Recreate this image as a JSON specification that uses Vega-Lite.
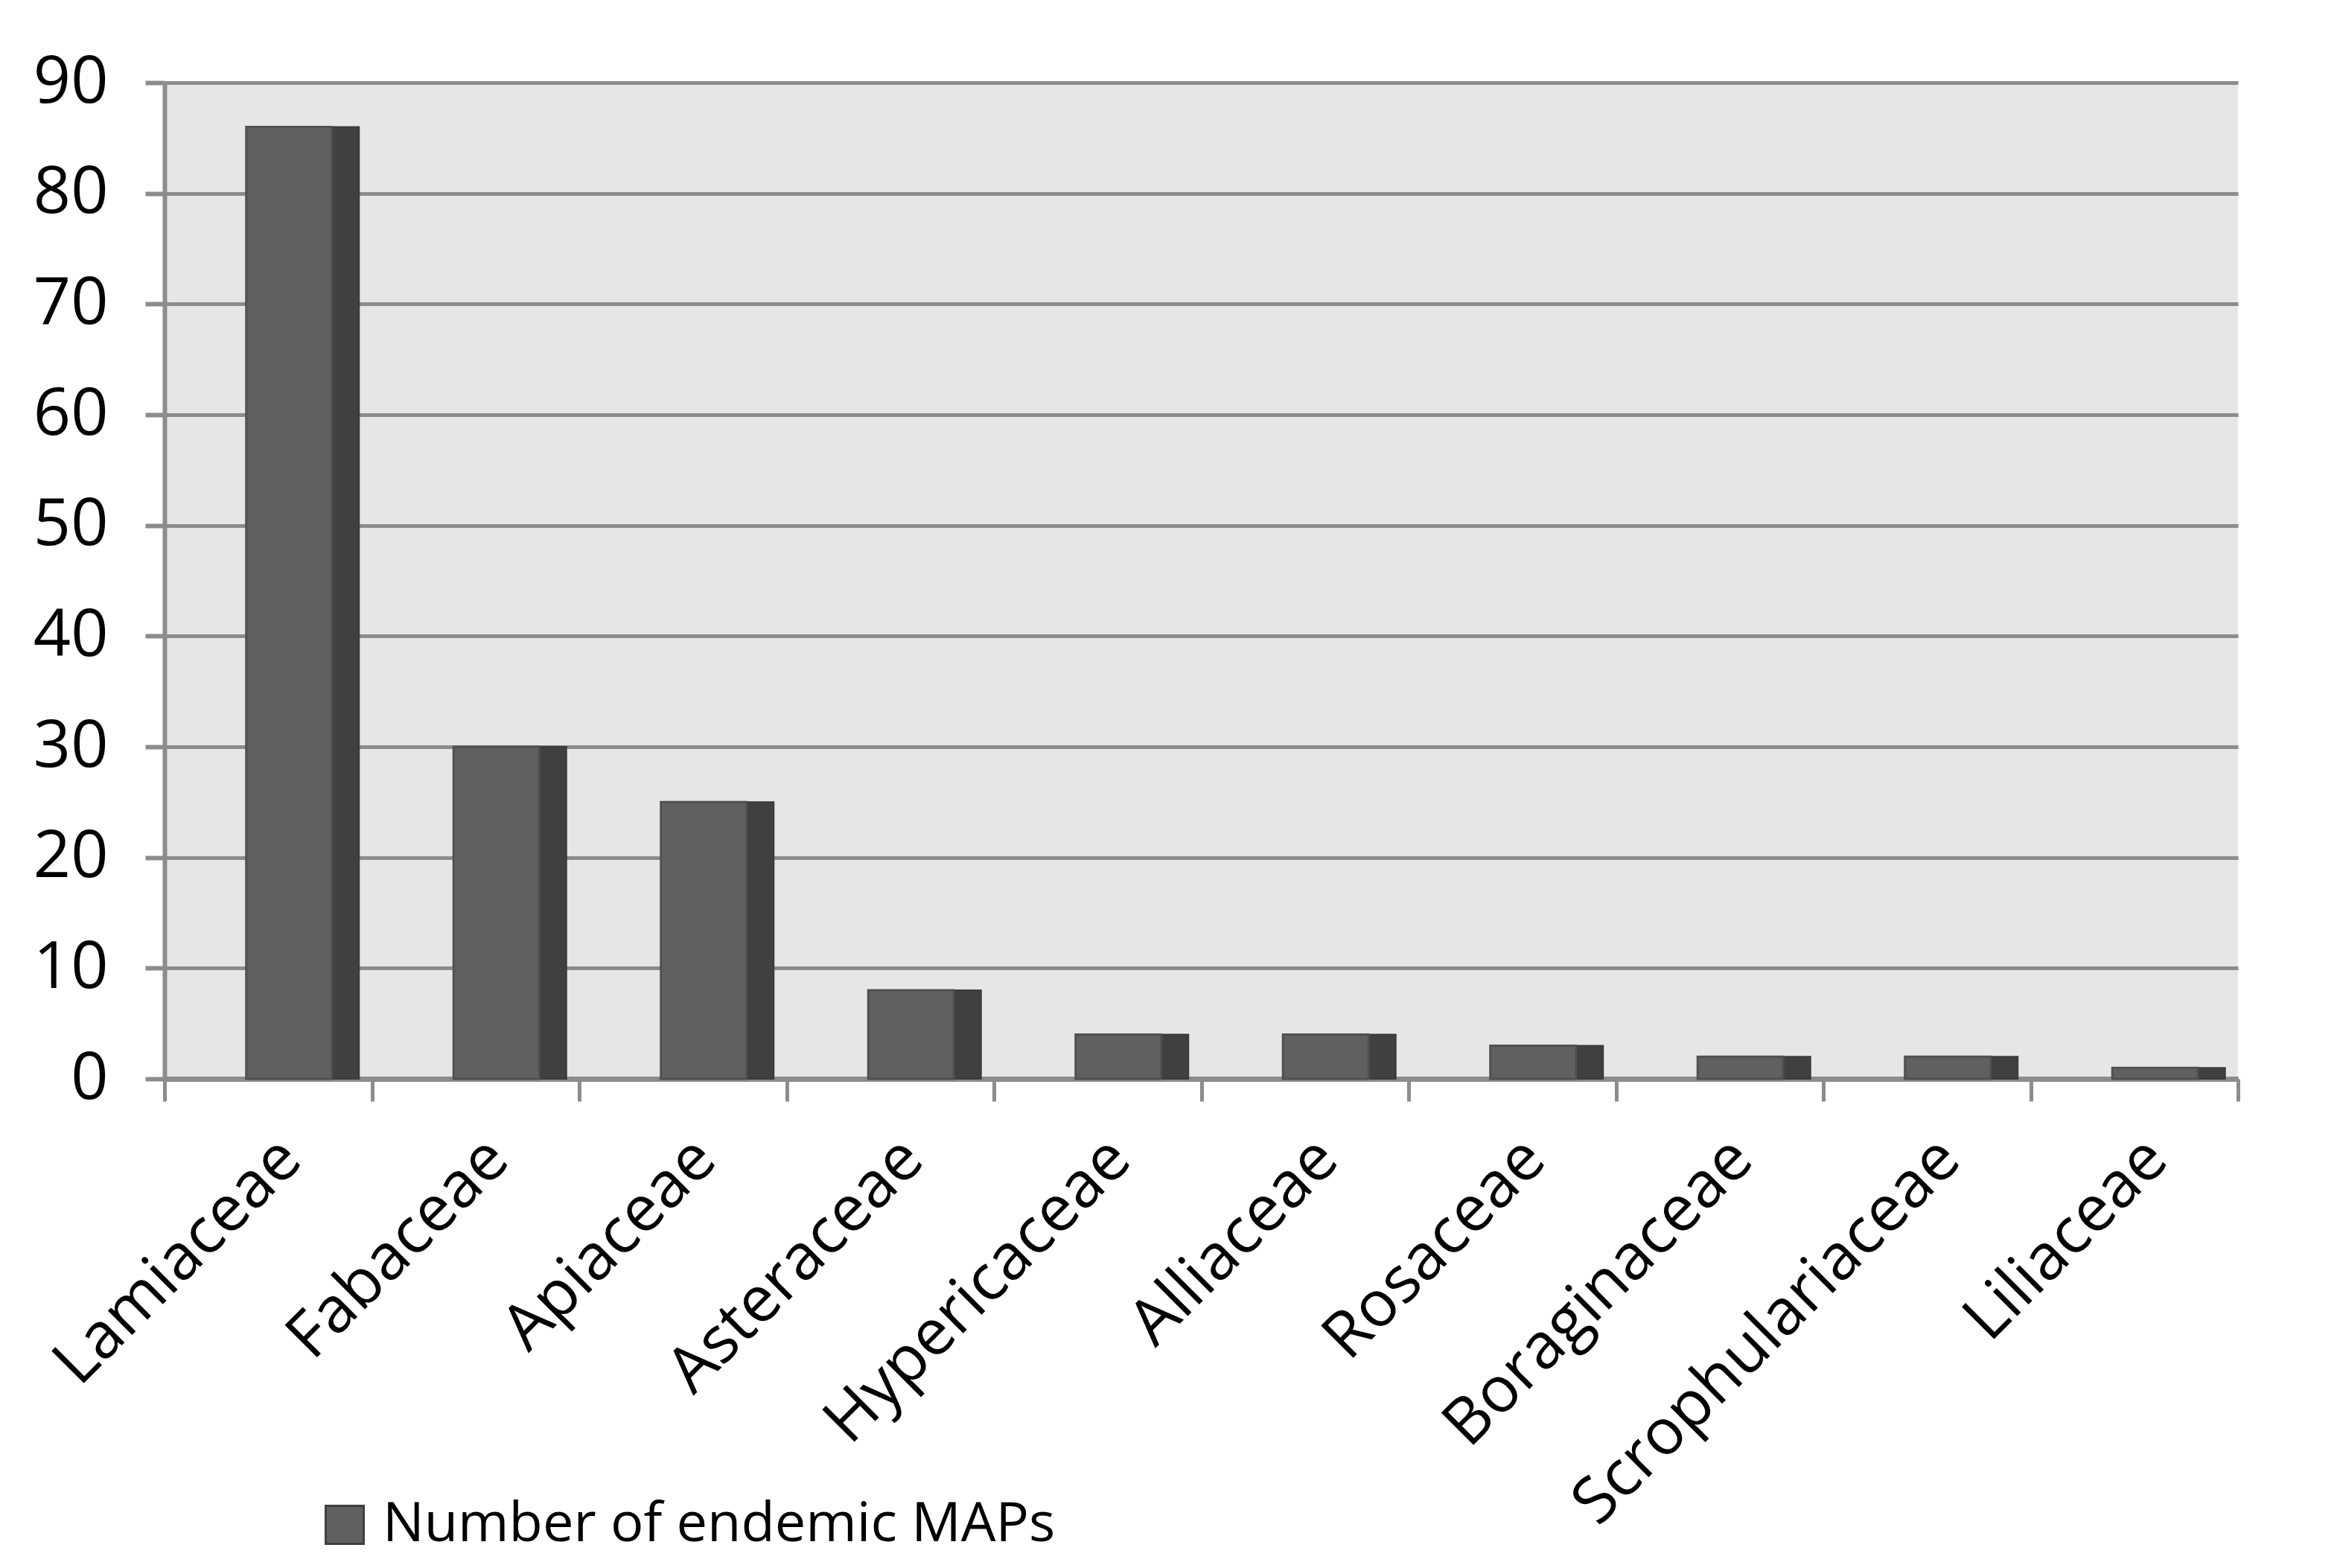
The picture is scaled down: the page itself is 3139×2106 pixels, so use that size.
{
  "$schema": "https://vega.github.io/schema/vega-lite/v6.json",
  "width": 2785,
  "height": 1338,
  "autosize": {"type": "none"},
  "padding": {"left": 221, "top": 111, "right": 133, "bottom": 657},
  "background": "white",
  "data": {
    "values": [
      {"family": "Lamiaceae", "count": 86, "series": "Number of endemic MAPs"},
      {"family": "Fabaceae", "count": 30, "series": "Number of endemic MAPs"},
      {"family": "Apiaceae", "count": 25, "series": "Number of endemic MAPs"},
      {"family": "Asteraceae", "count": 8, "series": "Number of endemic MAPs"},
      {"family": "Hypericaceae", "count": 4, "series": "Number of endemic MAPs"},
      {"family": "Alliaceae", "count": 4, "series": "Number of endemic MAPs"},
      {"family": "Rosaceae", "count": 3, "series": "Number of endemic MAPs"},
      {"family": "Boraginaceae", "count": 2, "series": "Number of endemic MAPs"},
      {"family": "Scrophulariaceae", "count": 2, "series": "Number of endemic MAPs"},
      {"family": "Liliaceae", "count": 1, "series": "Number of endemic MAPs"}
    ]
  },
  "encoding": {
    "x": {
      "field": "family",
      "type": "nominal",
      "sort": null,
      "scale": {"paddingInner": 0, "paddingOuter": 0},
      "axis": {
        "title": null,
        "labelAngle": -45,
        "labelFontSize": 86,
        "labelPadding": 34,
        "labelLimit": 0,
        "tickBand": "extent",
        "tickSize": 30,
        "tickWidth": 5,
        "tickColor": "#8c8c8c",
        "domainColor": "#8c8c8c",
        "domainWidth": 7,
        "grid": false
      }
    },
    "y": {
      "field": "count",
      "type": "quantitative",
      "scale": {"domain": [0, 90], "nice": false},
      "axis": {
        "title": null,
        "values": [0, 10, 20, 30, 40, 50, 60, 70, 80, 90],
        "labelFontSize": 88,
        "labelPadding": 50,
        "tickSize": 26,
        "tickWidth": 6,
        "tickColor": "#8c8c8c",
        "domainColor": "#8c8c8c",
        "domainWidth": 6,
        "grid": true,
        "gridColor": "#8c8c8c",
        "gridWidth": 5
      }
    }
  },
  "layer": [
    {
      "mark": {"type": "bar", "width": 36, "xOffset": 104, "color": "#404040", "stroke": "#3a3a3a", "strokeWidth": 2},
      "encoding": {}
    },
    {
      "mark": {"type": "bar", "width": 115, "xOffset": 28, "stroke": "#505050", "strokeWidth": 3},
      "encoding": {
        "color": {
          "field": "series",
          "type": "nominal",
          "scale": {"range": ["#606060"]},
          "legend": {
            "title": null,
            "orient": "none",
            "legendX": 205,
            "legendY": 1900,
            "labelFontSize": 74,
            "labelLimit": 0,
            "labelColor": "#000000",
            "labelOffset": 14,
            "symbolType": "square",
            "symbolSize": 2600,
            "symbolStrokeColor": "#404040",
            "symbolStrokeWidth": 3,
            "symbolOpacity": 1
          }
        }
      }
    }
  ],
  "config": {
    "font": "Open Sans",
    "view": {"stroke": null, "fill": "#e6e6e6"},
    "axis": {"labelColor": "#000000", "labelFont": "Open Sans"},
    "legend": {"labelFont": "Open Sans"}
  }
}
